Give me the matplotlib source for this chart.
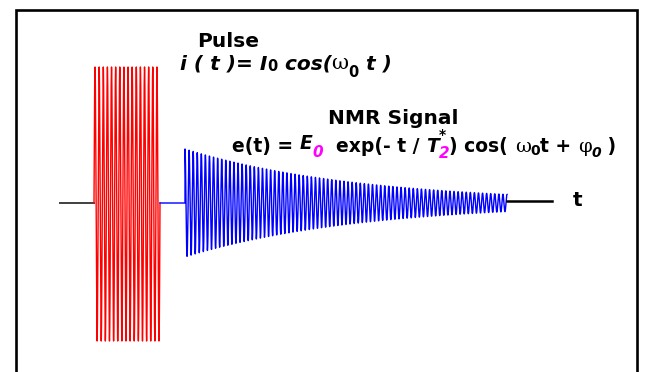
import numpy as np
import matplotlib
matplotlib.use('Agg')
import matplotlib.pyplot as plt

W, H = 645, 372

# waveform (pixel units, y grows downwards)
base_y = 203
lead_x = [60, 94]
pulse_x = [94, 160]
pulse_cycles = 16
pulse_amp_up, pulse_amp_down = 136, 138
gap_x = [160, 185]
fid_x = [185, 507]
fid_cycles = 79
fid_amp = 54
fid_decay = 175
tail_x = [507, 552]
tail_y = 201

fig = plt.figure(figsize=(W / 100, H / 100), dpi=100)
ax = fig.add_axes([0, 0, 1, 1])
ax.set_xlim(0, W)
ax.set_ylim(H, 0)
ax.axis('off')

# frame (open at the bottom)
ax.plot([16, 16, 637, 637], [H + 5, 10, 10, H + 5], color='black', lw=1.9,
        solid_joinstyle='miter')

# lead-in line
ax.plot(lead_x, [base_y, base_y], color='#404040', lw=1.4)

# RF pulse
u = np.linspace(0, 1, 6000)
s = np.sin(2 * np.pi * pulse_cycles * u)
amp = np.where(s > 0, pulse_amp_up, pulse_amp_down)
ax.plot(pulse_x[0] + u * (pulse_x[1] - pulse_x[0]), base_y - amp * s,
        color='red', lw=1.0)

# gap + free induction decay
xf = np.linspace(fid_x[0], fid_x[1], 12000)
yf = base_y - fid_amp * np.exp(-(xf - fid_x[0]) / fid_decay) * \
    np.cos(2 * np.pi * fid_cycles * (xf - fid_x[0]) / (fid_x[1] - fid_x[0]))
ax.plot(np.r_[gap_x[0], gap_x[1], xf], np.r_[base_y, base_y, yf],
        color='blue', lw=1.0)

# tail
ax.plot(tail_x, [tail_y, tail_y], color='black', lw=1.8)

sans = 'DejaVu Sans'
serif = 'DejaVu Serif'
B = dict(family=sans, weight='bold', size=14.5, color='black')
BI = dict(B, style='italic')
SUB = dict(B, size=10.5)
SUBI = dict(SUB, style='italic')
MAG = dict(SUBI, color='#ff00ff', size=11.5)
GR = dict(family=serif, size=15, color='black')

# slightly tighter set for the long signal formula
B2 = dict(B, size=13.5)
BI2 = dict(B2, style='italic')
SUB2 = dict(B2, size=10)
SUBI2 = dict(SUB2, style='italic')
MAG2 = dict(SUBI2, color='#ff00ff', size=11)
GR2 = dict(GR, size=14)

ax.text(197, 47, 'Pulse', va='baseline', **B)
ax.text(328, 124, 'NMR Signal', va='baseline', **B)
ax.text(578, 206, 't', va='baseline', ha='center', **B)

fig.canvas.draw()
r = fig.canvas.get_renderer()


def run(x, y, parts):
    for s, kw, dy in parts:
        if isinstance(s, tuple):
            w = 0
            for ss, kk, dd in s:
                t = ax.text(x, y + dd, ss, va='baseline', **kk)
                w = max(w, t.get_window_extent(r).width)
            x += w
        else:
            t = ax.text(x, y + dy, s, va='baseline', **kw)
            x += t.get_window_extent(r).width


run(180, 69, [
    ('i ( t )= I', BI, 0),
    ('0', SUB, 2),
    (' cos(', BI, 0),
    ('\u03c9', GR, 0),
    ('0', SUB, 8),
    (' t )', BI, 0),
])

run(232, 152, [
    ('e(t) = ', B2, 0),
    ('E', BI2, -3),
    ('0', MAG2, 5),
    ('  exp(- t / ', B2, 0),
    ('T', BI2, 0),
    ((('*', SUB2, -13), ('2', MAG2, 6)), None, 0),
    (') cos( ', B2, 0),
    ('\u03c9', GR2, 0),
    ('0', SUB2, 3),
    ('t + ', B2, 0),
    ('\u03c6', GR2, 0),
    ('0', SUBI2, 5),
    (' )', B2, 0),
])

fig.savefig('out.png', dpi=100)
